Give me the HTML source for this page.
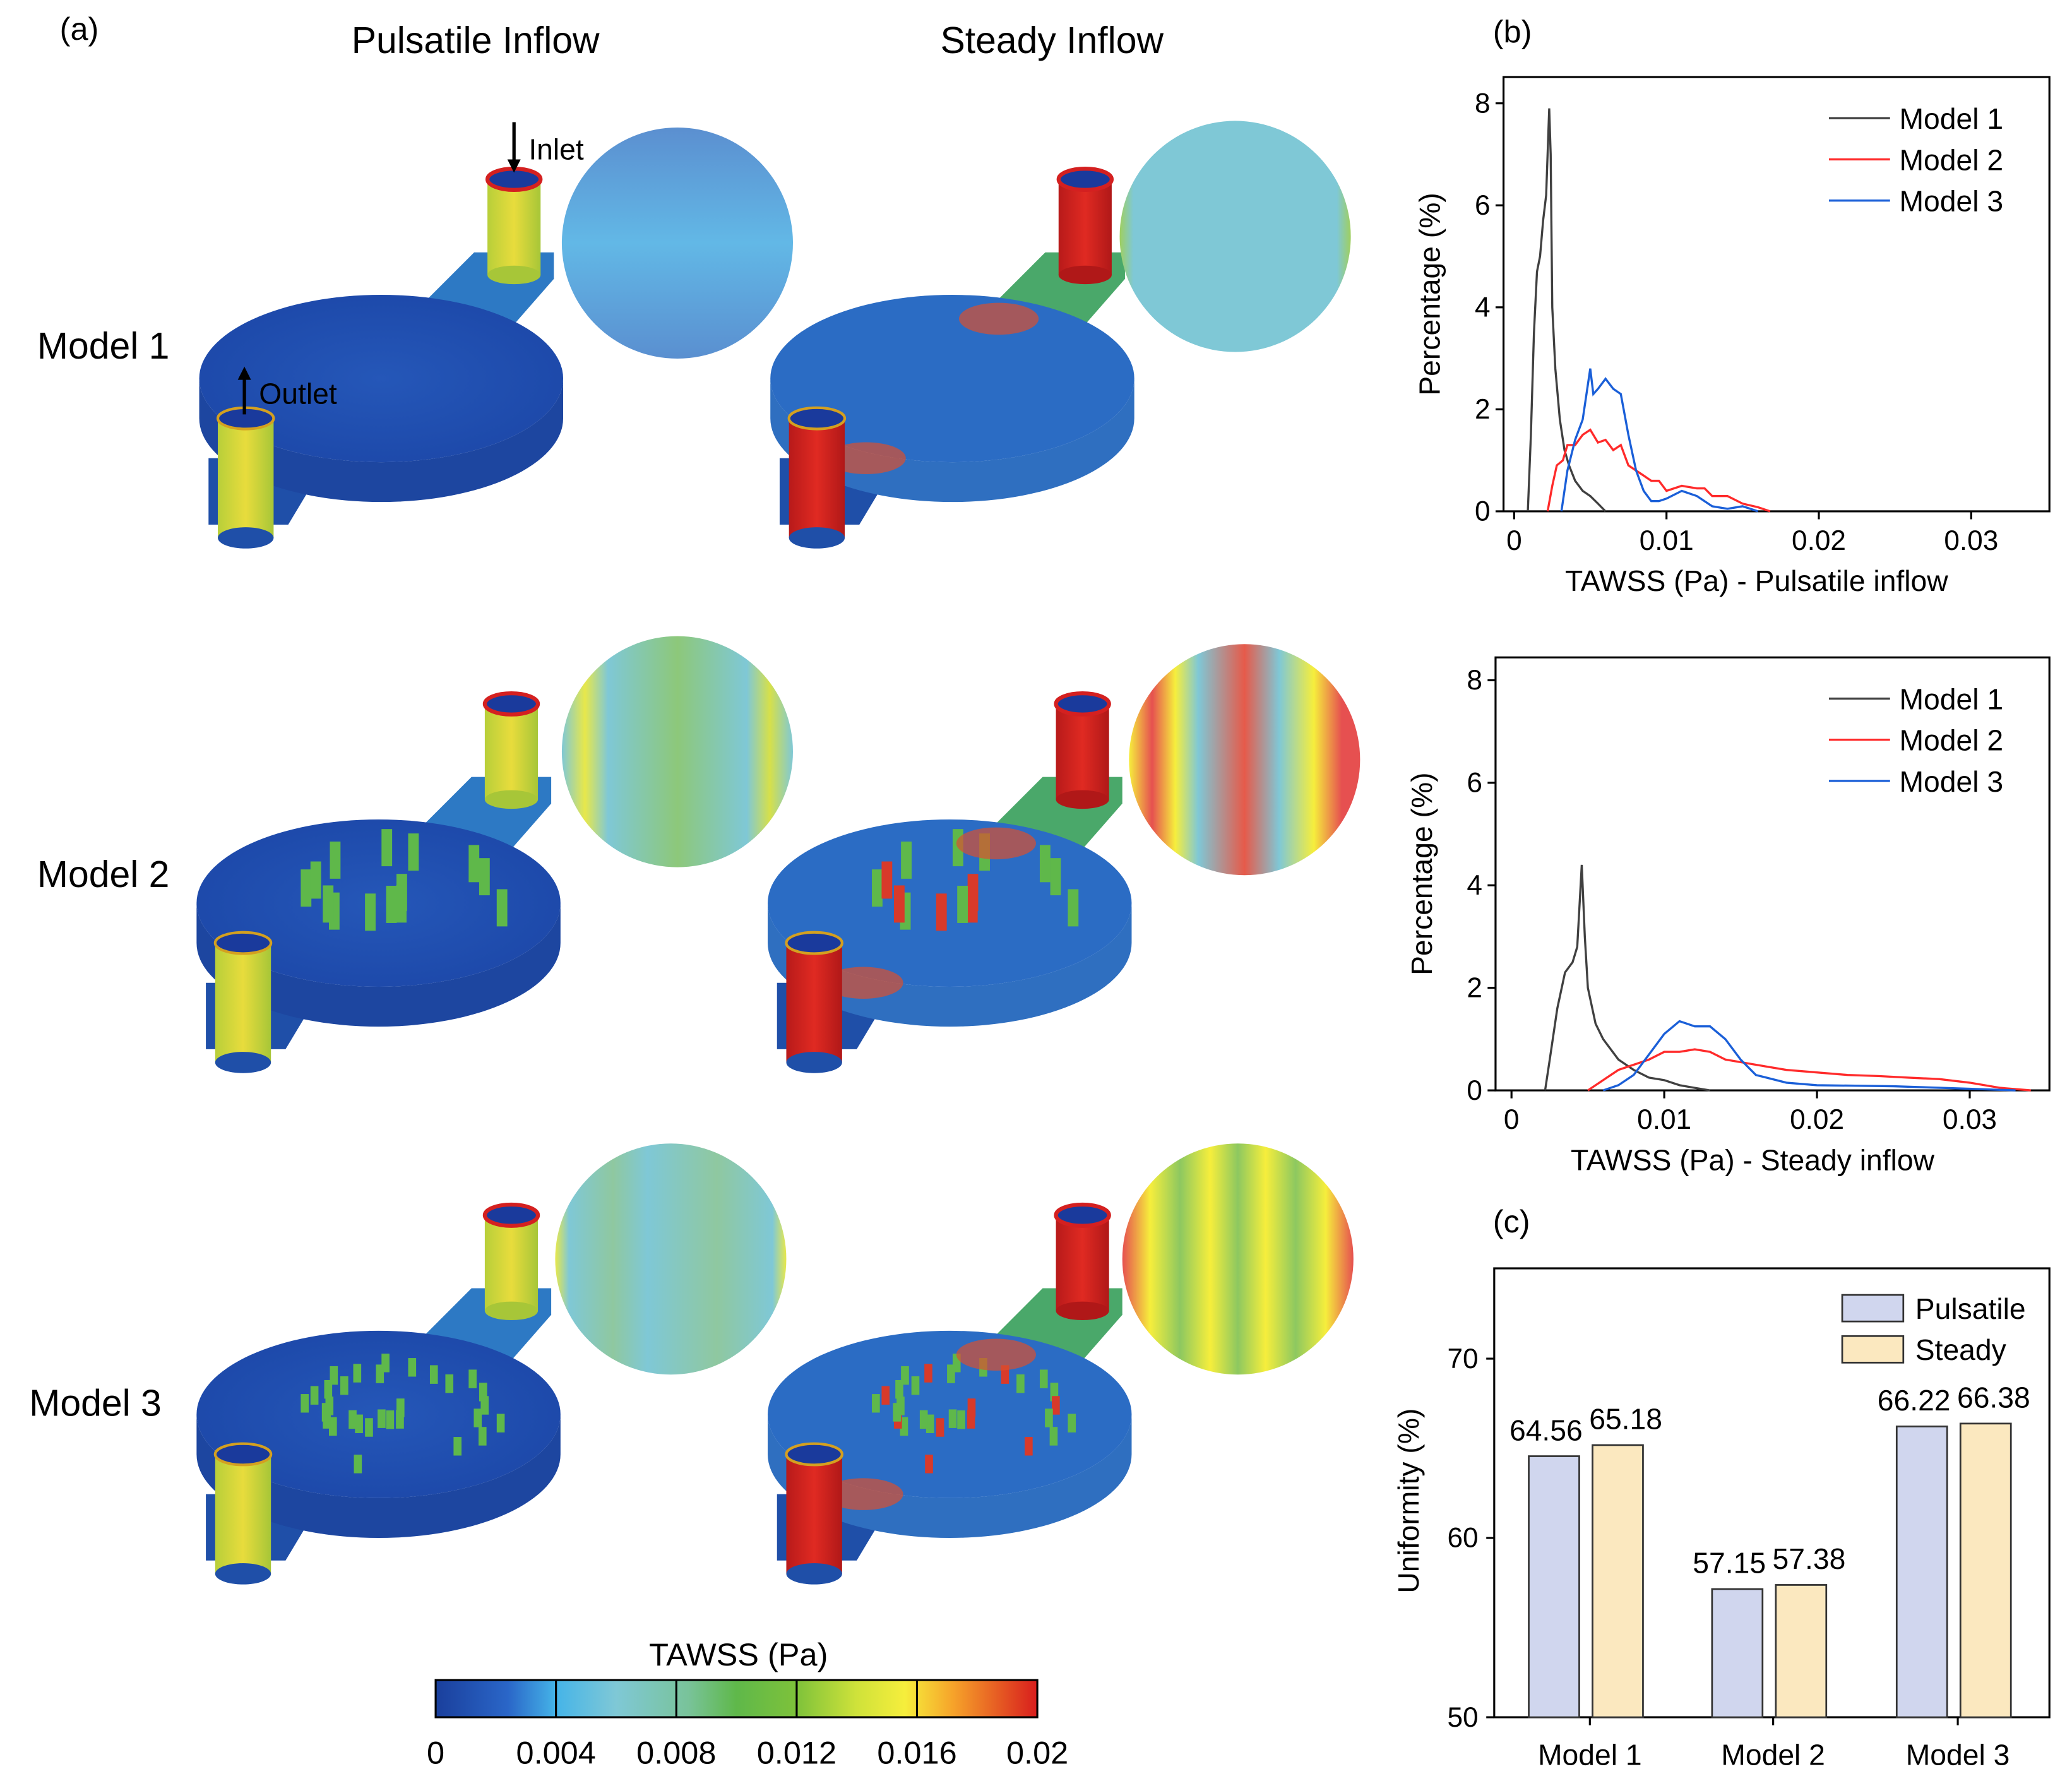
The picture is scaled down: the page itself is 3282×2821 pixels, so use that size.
<!DOCTYPE html>
<html><head><meta charset="utf-8">
<style>
html,body{margin:0;padding:0;background:#fff;}
svg{display:block;font-family:"Liberation Sans",Arial,sans-serif;}
</style></head>
<body>
<svg id="fig" xmlns="http://www.w3.org/2000/svg" width="3282" height="2821" viewBox="0 0 1560 1341" preserveAspectRatio="none">
<defs>
  <linearGradient id="cbar" x1="0" x2="1" y1="0" y2="0">
    <stop offset="0" stop-color="#1a3f9c"/><stop offset="0.12" stop-color="#2a66c8"/>
    <stop offset="0.2" stop-color="#45b4e8"/><stop offset="0.3" stop-color="#7fc8d6"/>
    <stop offset="0.42" stop-color="#79c39a"/><stop offset="0.5" stop-color="#5fb84a"/>
    <stop offset="0.6" stop-color="#7ec23a"/><stop offset="0.7" stop-color="#cfe23a"/>
    <stop offset="0.78" stop-color="#f6ee3c"/><stop offset="0.86" stop-color="#f6a32a"/>
    <stop offset="1" stop-color="#d81d1d"/>
  </linearGradient>
  <radialGradient id="discBlue" cx="0.5" cy="0.5" r="0.6">
    <stop offset="0" stop-color="#2557b8"/><stop offset="1" stop-color="#1c47a8"/>
  </radialGradient>
  <linearGradient id="cylY" x1="0" x2="1"><stop offset="0" stop-color="#b8cf3a"/><stop offset="0.5" stop-color="#e8dc3c"/><stop offset="1" stop-color="#a7c638"/></linearGradient>
  <linearGradient id="cylR" x1="0" x2="1"><stop offset="0" stop-color="#b81a1a"/><stop offset="0.5" stop-color="#e02a22"/><stop offset="1" stop-color="#b01818"/></linearGradient>
  <linearGradient id="c1p" x1="0" x2="0" y1="0" y2="1"><stop offset="0" stop-color="#5b8fd0"/><stop offset="0.5" stop-color="#62b8e6"/><stop offset="1" stop-color="#5a8fd0"/></linearGradient>
  <linearGradient id="c2p" x1="0" x2="1"><stop offset="0" stop-color="#7fc8d6"/><stop offset="0.1" stop-color="#e8e84a"/><stop offset="0.2" stop-color="#7fc8d6"/><stop offset="0.5" stop-color="#8dc87a"/><stop offset="0.8" stop-color="#7fc8d6"/><stop offset="0.9" stop-color="#d6e04a"/><stop offset="1" stop-color="#7fc8d6"/></linearGradient>
  <linearGradient id="c2s" x1="0" x2="1"><stop offset="0" stop-color="#f6ee3c"/><stop offset="0.1" stop-color="#e65050"/><stop offset="0.2" stop-color="#f6ee3c"/><stop offset="0.3" stop-color="#7fc8d6"/><stop offset="0.5" stop-color="#e65a4a"/><stop offset="0.65" stop-color="#7fc8d6"/><stop offset="0.8" stop-color="#f6ee3c"/><stop offset="0.92" stop-color="#e65050"/><stop offset="1" stop-color="#e65050"/></linearGradient>
  <linearGradient id="c3s" x1="0" x2="1"><stop offset="0" stop-color="#e65050"/><stop offset="0.12" stop-color="#f6ee3c"/><stop offset="0.25" stop-color="#8dc860"/><stop offset="0.38" stop-color="#f6ee3c"/><stop offset="0.5" stop-color="#8dc860"/><stop offset="0.62" stop-color="#f6ee3c"/><stop offset="0.75" stop-color="#8dc860"/><stop offset="0.88" stop-color="#f6ee3c"/><stop offset="1" stop-color="#e65050"/></linearGradient>
  <linearGradient id="c1s" x1="0" x2="1"><stop offset="0" stop-color="#9fcf60"/><stop offset="0.06" stop-color="#7fc8d6"/><stop offset="0.94" stop-color="#7fc8d6"/><stop offset="1" stop-color="#9fcf60"/></linearGradient>
  <linearGradient id="c3p" x1="0" x2="1"><stop offset="0" stop-color="#e8e84a"/><stop offset="0.06" stop-color="#7fc8d6"/><stop offset="0.25" stop-color="#8fc8a0"/><stop offset="0.4" stop-color="#7fc8d6"/><stop offset="0.7" stop-color="#8fc8a0"/><stop offset="0.94" stop-color="#7fc8d6"/><stop offset="1" stop-color="#e8e84a"/></linearGradient>
</defs>

<text x="45" y="30" font-size="24">(a)</text>
<text x="358" y="40" font-size="28" text-anchor="middle">Pulsatile Inflow</text>
<text x="792" y="40" font-size="28" text-anchor="middle">Steady Inflow</text>
<text x="28" y="270" font-size="28">Model 1</text>
<text x="28" y="668" font-size="28">Model 2</text>
<text x="22" y="1066" font-size="28">Model 3</text>

<g id="renders"></g>

<text x="398" y="120" font-size="22">Inlet</text>
<line x1="387" y1="92" x2="387" y2="125" stroke="#000" stroke-width="2.5"/><path d="M382,120 L387,130 L392,120Z"/>
<text x="195" y="304" font-size="22">Outlet</text>
<line x1="184" y1="312" x2="184" y2="282" stroke="#000" stroke-width="2.5"/><path d="M179,286 L184,276 L189,286Z"/>

<text x="556" y="1254" font-size="24" text-anchor="middle">TAWSS (Pa)</text>
<rect x="328" y="1265" width="453" height="28" fill="url(#cbar)" stroke="#000" stroke-width="1.5"/>
<g id="cbticks"></g>

<text x="1124" y="32" font-size="24">(b)</text>
<text x="1124" y="928" font-size="24">(c)</text>
<g id="chart1"></g>
<g id="chart2"></g>
<g id="chart3"></g>
</svg>
<script>
const p1x=[0.0009,0.0011,0.0013,0.0015,0.0017,0.0019,0.0021,0.0023,0.0024,0.0025,0.0027,0.003,0.0033,0.0036,0.004,0.0045,0.005,0.0055,0.006];
const p1y=[0,1.5,3.5,4.7,5.0,5.7,6.2,7.9,7.0,4.0,2.8,1.8,1.2,0.9,0.6,0.4,0.3,0.15,0];
const p2x=[0.0022,0.0025,0.0028,0.0032,0.0035,0.004,0.0045,0.005,0.0055,0.006,0.0065,0.007,0.0075,0.008,0.0085,0.009,0.0095,0.01,0.011,0.012,0.0125,0.013,0.014,0.015,0.016,0.0168];
const p2y=[0,0.5,0.9,1.0,1.3,1.3,1.5,1.6,1.35,1.4,1.2,1.3,0.9,0.8,0.7,0.6,0.6,0.4,0.5,0.45,0.45,0.3,0.3,0.15,0.08,0];
const p3x=[0.0031,0.0035,0.004,0.0045,0.005,0.0052,0.0055,0.006,0.0065,0.007,0.0075,0.008,0.0085,0.009,0.0095,0.01,0.011,0.012,0.013,0.014,0.015,0.016];
const p3y=[0,0.8,1.4,1.8,2.8,2.3,2.4,2.6,2.4,2.3,1.5,0.8,0.4,0.2,0.2,0.25,0.4,0.3,0.1,0.05,0.1,0];
const s1x=[0.0022,0.0025,0.003,0.0035,0.004,0.0043,0.0046,0.0048,0.005,0.0055,0.006,0.007,0.008,0.009,0.01,0.011,0.012,0.013];
const s1y=[0,0.6,1.6,2.3,2.5,2.8,4.4,3.0,2.0,1.3,1.0,0.6,0.4,0.25,0.2,0.1,0.05,0];
const s2x=[0.005,0.006,0.007,0.008,0.009,0.01,0.011,0.012,0.013,0.014,0.016,0.018,0.02,0.022,0.024,0.026,0.028,0.03,0.032,0.034];
const s2y=[0,0.2,0.4,0.5,0.6,0.75,0.75,0.8,0.75,0.6,0.5,0.4,0.35,0.3,0.28,0.25,0.22,0.15,0.05,0];
const s3x=[0.006,0.007,0.008,0.009,0.01,0.011,0.012,0.013,0.014,0.015,0.016,0.018,0.02,0.025,0.03,0.033];
const s3y=[0,0.1,0.3,0.7,1.1,1.35,1.25,1.25,1.0,0.6,0.3,0.15,0.1,0.08,0.03,0];
const xTicks=[0,0.01,0.02,0.03];
const xTickLabels=["0","0.01","0.02","0.03"];
const yTicks=[0,2,4,6,8];
const legendNames=["Model 1","Model 2","Model 3"];
const barCats=["Model 1","Model 2","Model 3"];
const pulsatile=[64.56,57.15,66.22];
const steady=[65.18,57.38,66.38];
const barTicks=[50,60,70];
const cbTicks=[0,0.004,0.008,0.012,0.016,0.02];
const cbLabels=["0","0.004","0.008","0.012","0.016","0.02"];

const NS="http://www.w3.org/2000/svg";
function mk(tag,attrs,parent,txt){const e=document.createElementNS(NS,tag);for(const k in attrs)e.setAttribute(k,attrs[k]);if(txt!==undefined)e.textContent=txt;parent.appendChild(e);return e;}
const colors=["#404040","#ff2a2a","#1a5fd8"];

function hist(gid,box,x0px,xscale,y0px,yscale,series,xlabel){
  const g=document.getElementById(gid);
  const X=v=>x0px+v*xscale, Y=v=>y0px-v*yscale;
  const frame=mk('rect',{x:box[0],y:box[1],width:box[2]-box[0],height:box[3]-box[1],fill:'none',stroke:'#000','stroke-width':1.5},g);
  
  
  xTicks.forEach((t,i)=>{
    mk('line',{x1:X(t),x2:X(t),y1:box[3],y2:box[3]+6,stroke:'#000','stroke-width':1.5},g);
    const tl=mk('text',{x:X(t),y:box[3]+29,'font-size':21,'text-anchor':'middle'},g,xTickLabels[i]);
    
    
  });
  yTicks.forEach(t=>{
    mk('line',{x1:box[0],x2:box[0]-6,y1:Y(t),y2:Y(t),stroke:'#000','stroke-width':1.5},g);
    const tl=mk('text',{x:box[0]-10,y:Y(t)+7,'font-size':21,'text-anchor':'end'},g,String(t));
    
    
  });
  const xt=mk('text',{x:(box[0]+box[2])/2-15,y:box[3]+60,'font-size':22,'text-anchor':'middle'},g,xlabel);
  
  
  const yx=box[0]-48, yy=(box[1]+box[3])/2;
  const yt=mk('text',{x:yx,y:yy,'font-size':22,'text-anchor':'middle',transform:`rotate(-90 ${yx} ${yy})`},g,'Percentage (%)');
  
  
  series.forEach((s,i)=>{
    const d=s[0].map((v,j)=>(j?'L':'M')+X(v).toFixed(1)+','+Y(s[1][j]).toFixed(1)).join(' ');
    const p=mk('path',{d:d,fill:'none',stroke:colors[i],'stroke-width':1.6},g);
    
    
    const ly=box[1]+31+i*31;
    mk('line',{x1:box[2]-166,x2:box[2]-120,y1:ly,y2:ly,stroke:colors[i],'stroke-width':1.6},g);
    const lt=mk('text',{x:box[2]-113,y:ly+8,'font-size':22},g,legendNames[i]);
    
    
  });
}
hist('chart1',[1132,58,1543,385],1140,11470,385,38.4,[[p1x,p1y],[p2x,p2y],[p3x,p3y]],'TAWSS (Pa) - Pulsatile inflow');
hist('chart2',[1126,495,1543,821],1138,11500,821,38.6,[[s1x,s1y],[s2x,s2y],[s3x,s3y]],'TAWSS (Pa) - Steady inflow');

(function(){
  const g=document.getElementById('chart3');
  const box=[1125,955,1543,1293];
  const Y=v=>1293-(v-50)*13.5;
  const cx=[1197,1335,1474];
  const fr=mk('rect',{x:box[0],y:box[1],width:box[2]-box[0],height:box[3]-box[1],fill:'none',stroke:'#000','stroke-width':1.5},g);
  
  
  barTicks.forEach(t=>{
    mk('line',{x1:box[0],x2:box[0]-6,y1:Y(t),y2:Y(t),stroke:'#000','stroke-width':1.5},g);
    const tl=mk('text',{x:box[0]-12,y:Y(t)+7,'font-size':21,'text-anchor':'end'},g,String(t));
    
    
  });
  const yx=1068,yy=1130;
  const yt=mk('text',{x:yx,y:yy,'font-size':22,'text-anchor':'middle',transform:`rotate(-90 ${yx} ${yy})`},g,'Uniformity (%)');
  
  
  barCats.forEach((c,i)=>{
    mk('line',{x1:cx[i],x2:cx[i],y1:box[3],y2:box[3]+6,stroke:'#000','stroke-width':1.5},g);
    const cl=mk('text',{x:cx[i],y:1329,'font-size':22,'text-anchor':'middle'},g,c);
    
    
    [[pulsatile,'#d0d6ee',cx[i]-46],[steady,'#fbe8bf',cx[i]+2]].forEach((s,k)=>{
      const v=s[0][i];
      const b=mk('rect',{x:s[2],y:Y(v),width:38,height:Y(50)-Y(v),fill:s[1],stroke:'#333','stroke-width':1.3},g);
      
      
      const vl=mk('text',{x:s[2]+19+(k?6:-6),y:Y(v)-12,'font-size':22,'text-anchor':'middle'},g,v.toFixed(2));
      
      
    });
  });
  [['Pulsatile','#d0d6ee'],['Steady','#fbe8bf']].forEach((l,i)=>{
    mk('rect',{x:1387,y:975+i*31,width:46,height:20,fill:l[1],stroke:'#333','stroke-width':1.3},g);
    const lt=mk('text',{x:1442,y:993+i*31,'font-size':22},g,l[0]);
    
    
  });
})();

(function(){
  const g=document.getElementById('cbticks');
  cbTicks.forEach((t,i)=>{
    const x=328+t/0.02*453;
    if(i>0&&i<5) mk('line',{x1:x,x2:x,y1:1265,y2:1293,stroke:'#000','stroke-width':1.5},g);
    const tl=mk('text',{x:x,y:1328,'font-size':24,'text-anchor':'middle'},g,cbLabels[i]);
    
    
  });
})();

(function(){
  const g=document.getElementById('renders');
  const rows=[[287,285],[285,680],[285,1065]];
  const circ=[[[510,183,'url(#c1p)'],[930,178,'url(#c1s)']],[[510,566,'url(#c2p)'],[937,572,'url(#c2s)']],[[505,948,'url(#c3p)'],[932,948,'url(#c3s)']]];
  rows.forEach((r,ri)=>{
    [0,430].forEach((dx,ci)=>{
      const cx=r[0]+dx, cy=r[1];
      const steadyCol=ci===1;
      mk('path',{d:`M${cx+30},${cy-55} L${cx+70},${cy-95} L${cx+130},${cy-95} L${cx+130},${cy-75} L${cx+95},${cy-35}Z`,fill:steadyCol?'#4aa86a':'#2d79c4'},g);
      mk('path',{d:`M${cx-130},${cy+60} L${cx-40},${cy+60} L${cx-70},${cy+110} L${cx-130},${cy+110}Z`,fill:'#1f4fa8'},g);
      mk('path',{d:`M${cx-137},${cy} A137,63 0 0 0 ${cx+137},${cy} L${cx+137},${cy+30} A137,63 0 0 1 ${cx-137},${cy+30}Z`,fill:steadyCol?'#2f6fc0':'#1d46a0'},g);
      const d=mk('ellipse',{cx:cx,cy:cy,rx:137,ry:63,fill:steadyCol?'#2b6cc4':'url(#discBlue)'},g);
      
      
      if(ri>0){
        const n=ri===1?14:30;
        for(let k=0;k<n;k++){
          const a=(k*2.39)%6.28, rr=0.15+0.75*((k*0.37)%1);
          mk('rect',{x:cx+Math.cos(a)*110*rr-3,y:cy+Math.sin(a)*48*rr-(ri===1?22:12),width:ri===1?8:6,height:ri===1?28:14,fill:steadyCol&&k%3==0?'#d83a2a':'#5fb84a'},g);
        }
      }
      if(steadyCol){
        mk('ellipse',{cx:cx+35,cy:cy-45,rx:30,ry:12,fill:'#d85030',opacity:0.7},g);
        mk('ellipse',{cx:cx-65,cy:cy+60,rx:30,ry:12,fill:'#d85030',opacity:0.7},g);
      }
      const ix=cx+100, iy=cy-150;
      mk('rect',{x:ix-20,y:iy,width:40,height:72,fill:steadyCol?'url(#cylR)':'url(#cylY)'},g);
      mk('ellipse',{cx:ix,cy:iy+72,rx:20,ry:7,fill:steadyCol?'#b01818':'#a7c638'},g);
      mk('ellipse',{cx:ix,cy:iy,rx:20,ry:8,fill:'#1a3a9c',stroke:'#d42020','stroke-width':3},g);
      const ox=cx-102, oy=cy+30;
      mk('rect',{x:ox-21,y:oy,width:42,height:90,fill:steadyCol?'url(#cylR)':'url(#cylY)'},g);
      mk('ellipse',{cx:ox,cy:oy+90,rx:21,ry:8,fill:'#1f4fa8'},g);
      mk('ellipse',{cx:ox,cy:oy,rx:21,ry:8,fill:'#1a3a9c',stroke:'#d4a020','stroke-width':2},g);
      const c=circ[ri][ci];
      const ce=mk('circle',{cx:c[0],cy:c[1],r:87,fill:c[2]},g);
      
      
    });
  });
})();
</script>
</body></html>
